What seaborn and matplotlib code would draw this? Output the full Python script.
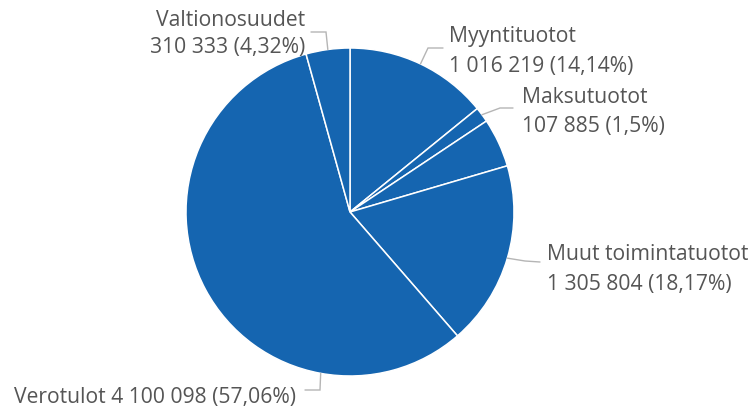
import numpy as np
import matplotlib
matplotlib.use("Agg")
import matplotlib.pyplot as plt
import seaborn as sns

# ---- data ----
categories = ["Myyntituotot", "Maksutuotot", "Tuet ja avustukset",
              "Muut toimintatuotot", "Verotulot", "Valtionosuudet"]
values = [1016219, 107885, 345800, 1305804, 4100098, 310333]
value_labels = ["1 016 219", "107 885", "345 800", "1 305 804", "4 100 098", "310 333"]
pct_labels = ["14,14%", "1,5%", "4,81%", "18,17%", "57,06%", "4,32%"]
show_label = [True, True, False, True, True, True]

# ---- style ----
sns.set_theme(style="white")
plt.rcParams['font.family'] = ['Open Sans', 'DejaVu Sans']

W, H = 752, 409
fig = plt.figure(figsize=(W / 100, H / 100), dpi=100)
ax = fig.add_axes([0, 0, 1, 1])

cx, cy, R = 350, 212, 164
pie_color = "#1565b0"
text_color = "#555555"
line_color = "#b5b5b5"
fs = 15.2


def Y(y):
    return H - y


wedges, _ = ax.pie(values, colors=[pie_color] * len(values), startangle=90,
                   counterclock=False, center=(cx, Y(cy)), radius=R, frame=True,
                   wedgeprops=dict(edgecolor="white", linewidth=1.1))
ax.set_xlim(0, W)
ax.set_ylim(0, H)
ax.set_aspect("equal")
ax.axis("off")

# label layout (pixel coords): anchor-angle override, elbow, end, text x, align, baselines, single-line
layout = {
    "Myyntituotot": dict(ang=None, elbow=(428, 48), end=(443, 48), tx=449, ha="left", base=(42, 72), single=False),
    "Maksutuotot": dict(ang=None, elbow=(500, 108), end=(513, 108), tx=522, ha="left", base=(103, 132), single=False),
    "Muut toimintatuotot": dict(ang=None, elbow=(525, 261), end=(540, 262), tx=547, ha="left", base=(260, 290), single=False),
    "Verotulot": dict(ang=-100.3, elbow=(320, 390), end=(305, 390), tx=296, ha="right", base=(403,), single=True),
    "Valtionosuudet": dict(ang=None, elbow=(326, 32), end=(311, 32), tx=305, ha="right", base=(26, 53), single=False),
}

for w, cat, vl, pl, show in zip(wedges, categories, value_labels, pct_labels, show_label):
    if not show:
        continue
    L = layout[cat]
    ang = L["ang"] if L["ang"] is not None else (w.theta1 + w.theta2) / 2
    a = np.deg2rad(ang)
    sx, sy = cx + R * np.cos(a), Y(cy) + R * np.sin(a)
    ex, ey = L["elbow"]
    fx, fy = L["end"]
    ax.plot([sx, ex, fx], [sy, Y(ey), Y(fy)], color=line_color, lw=1.0,
            solid_joinstyle="miter", zorder=1)
    if L["single"]:
        ax.text(L["tx"], Y(L["base"][0]), f"{cat} {vl} ({pl})", ha=L["ha"],
                va="baseline", fontsize=fs, color=text_color)
    else:
        ax.text(L["tx"], Y(L["base"][0]), cat, ha=L["ha"], va="baseline",
                fontsize=fs, color=text_color)
        ax.text(L["tx"], Y(L["base"][1]), f"{vl} ({pl})", ha=L["ha"], va="baseline",
                fontsize=fs, color=text_color)

fig.savefig("out.png", dpi=100, facecolor="white")
